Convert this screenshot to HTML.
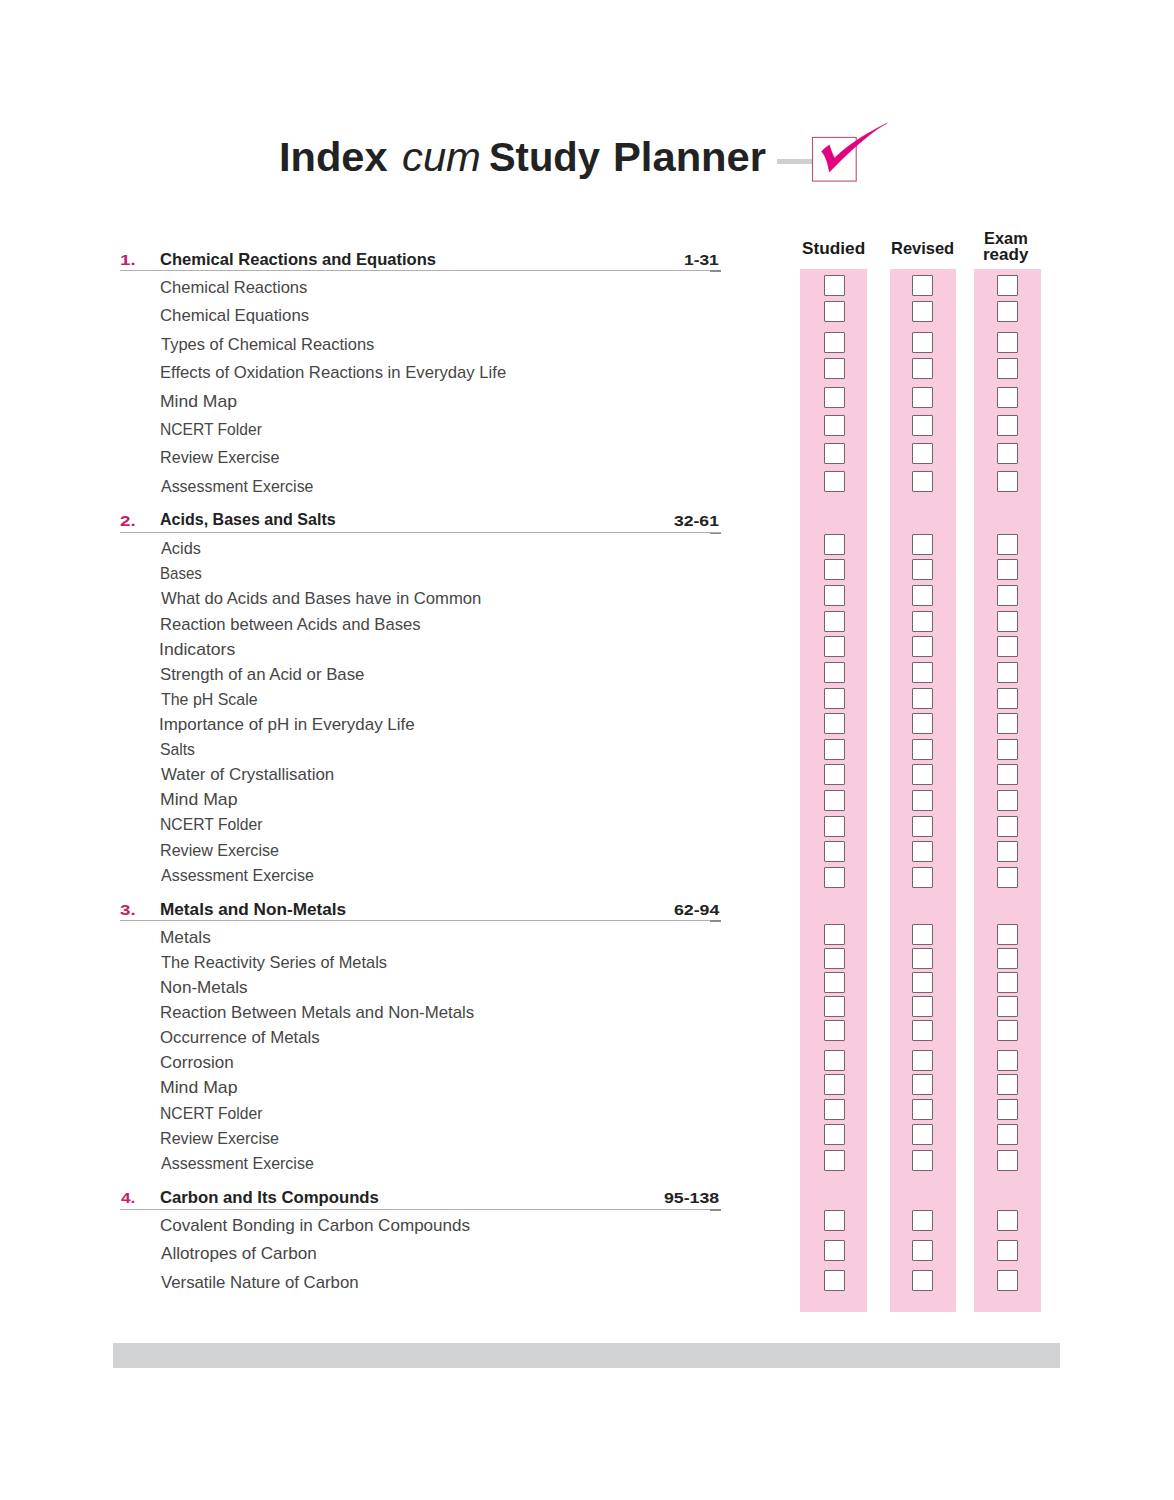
<!DOCTYPE html>
<html><head><meta charset="utf-8"><style>
html,body{margin:0;padding:0;background:#fff;}
body{width:1174px;height:1500px;position:relative;overflow:hidden;font-family:"Liberation Sans",sans-serif;}
div{position:absolute;white-space:nowrap;line-height:1;transform-origin:0 0;}
.sub{color:#464646;}
.head{color:#222;font-weight:bold;}
.num{color:#c4206c;font-weight:bold;}
.ul{left:120px;width:600.5px;height:1px;background:#b0b0b0;}
.ule{left:710px;width:10.5px;height:1.3px;background:#8a8a8a;}
.pink{background:#f8cbdf;}
.box{width:19px;height:19px;border:1px solid #75626b;background:#fff;border-radius:1px;}
.t{color:#222;}
.b{font-weight:bold;}
.i{font-style:italic;}
.colh{color:#1a1a1a;font-weight:bold;}
</style></head><body>
<div style="left:776.5px;top:158.7px;width:36px;height:5px;background:#cfcfcf"></div>
<svg style="position:absolute;left:805px;top:115px" width="90" height="70" viewBox="0 0 90 70">
<rect x="7.5" y="22.4" width="43.7" height="43.7" fill="none" stroke="#b5517f" stroke-width="1.1"/>
<path d="M16.5,36.4 C19,33.5 22,31.5 24.5,29.9 C25.5,34 27.5,39 29.5,42.9 C40,33 55,22 68,15.5 C74,12 79,9.5 82.4,8 C78,10.5 72,14 64,20.5 C50,31.5 38,43 24.4,57.1 C23,50 21.5,42 16.5,36.4 Z" fill="#e5007d" stroke="#c0006a" stroke-width="0.4"/>
</svg>
<div class="pink" style="left:800px;width:67px;top:269.3px;height:1043.1px"></div>
<div class="pink" style="left:889.5px;width:66.0px;top:269.3px;height:1043.1px"></div>
<div class="pink" style="left:974px;width:66.5px;top:269.3px;height:1043.1px"></div>
<div class="ul" style="top:269.7px"></div><div class="ule" style="top:270.4px"></div>
<div class="ul" style="top:531.8px"></div><div class="ule" style="top:532.5px"></div>
<div class="ul" style="top:919.7px"></div><div class="ule" style="top:920.4px"></div>
<div class="ul" style="top:1208.6px"></div><div class="ule" style="top:1209.3px"></div>
<div class="box" style="left:824px;top:275px"></div>
<div class="box" style="left:912px;top:275px"></div>
<div class="box" style="left:997px;top:275px"></div>
<div class="box" style="left:824px;top:301px"></div>
<div class="box" style="left:912px;top:301px"></div>
<div class="box" style="left:997px;top:301px"></div>
<div class="box" style="left:824px;top:332px"></div>
<div class="box" style="left:912px;top:332px"></div>
<div class="box" style="left:997px;top:332px"></div>
<div class="box" style="left:824px;top:358px"></div>
<div class="box" style="left:912px;top:358px"></div>
<div class="box" style="left:997px;top:358px"></div>
<div class="box" style="left:824px;top:387px"></div>
<div class="box" style="left:912px;top:387px"></div>
<div class="box" style="left:997px;top:387px"></div>
<div class="box" style="left:824px;top:415px"></div>
<div class="box" style="left:912px;top:415px"></div>
<div class="box" style="left:997px;top:415px"></div>
<div class="box" style="left:824px;top:443px"></div>
<div class="box" style="left:912px;top:443px"></div>
<div class="box" style="left:997px;top:443px"></div>
<div class="box" style="left:824px;top:471px"></div>
<div class="box" style="left:912px;top:471px"></div>
<div class="box" style="left:997px;top:471px"></div>
<div class="box" style="left:824px;top:534px"></div>
<div class="box" style="left:912px;top:534px"></div>
<div class="box" style="left:997px;top:534px"></div>
<div class="box" style="left:824px;top:559px"></div>
<div class="box" style="left:912px;top:559px"></div>
<div class="box" style="left:997px;top:559px"></div>
<div class="box" style="left:824px;top:585px"></div>
<div class="box" style="left:912px;top:585px"></div>
<div class="box" style="left:997px;top:585px"></div>
<div class="box" style="left:824px;top:611px"></div>
<div class="box" style="left:912px;top:611px"></div>
<div class="box" style="left:997px;top:611px"></div>
<div class="box" style="left:824px;top:636px"></div>
<div class="box" style="left:912px;top:636px"></div>
<div class="box" style="left:997px;top:636px"></div>
<div class="box" style="left:824px;top:662px"></div>
<div class="box" style="left:912px;top:662px"></div>
<div class="box" style="left:997px;top:662px"></div>
<div class="box" style="left:824px;top:688px"></div>
<div class="box" style="left:912px;top:688px"></div>
<div class="box" style="left:997px;top:688px"></div>
<div class="box" style="left:824px;top:713px"></div>
<div class="box" style="left:912px;top:713px"></div>
<div class="box" style="left:997px;top:713px"></div>
<div class="box" style="left:824px;top:739px"></div>
<div class="box" style="left:912px;top:739px"></div>
<div class="box" style="left:997px;top:739px"></div>
<div class="box" style="left:824px;top:764px"></div>
<div class="box" style="left:912px;top:764px"></div>
<div class="box" style="left:997px;top:764px"></div>
<div class="box" style="left:824px;top:790px"></div>
<div class="box" style="left:912px;top:790px"></div>
<div class="box" style="left:997px;top:790px"></div>
<div class="box" style="left:824px;top:816px"></div>
<div class="box" style="left:912px;top:816px"></div>
<div class="box" style="left:997px;top:816px"></div>
<div class="box" style="left:824px;top:841px"></div>
<div class="box" style="left:912px;top:841px"></div>
<div class="box" style="left:997px;top:841px"></div>
<div class="box" style="left:824px;top:867px"></div>
<div class="box" style="left:912px;top:867px"></div>
<div class="box" style="left:997px;top:867px"></div>
<div class="box" style="left:824px;top:924px"></div>
<div class="box" style="left:912px;top:924px"></div>
<div class="box" style="left:997px;top:924px"></div>
<div class="box" style="left:824px;top:948px"></div>
<div class="box" style="left:912px;top:948px"></div>
<div class="box" style="left:997px;top:948px"></div>
<div class="box" style="left:824px;top:972px"></div>
<div class="box" style="left:912px;top:972px"></div>
<div class="box" style="left:997px;top:972px"></div>
<div class="box" style="left:824px;top:996px"></div>
<div class="box" style="left:912px;top:996px"></div>
<div class="box" style="left:997px;top:996px"></div>
<div class="box" style="left:824px;top:1020px"></div>
<div class="box" style="left:912px;top:1020px"></div>
<div class="box" style="left:997px;top:1020px"></div>
<div class="box" style="left:824px;top:1050px"></div>
<div class="box" style="left:912px;top:1050px"></div>
<div class="box" style="left:997px;top:1050px"></div>
<div class="box" style="left:824px;top:1074px"></div>
<div class="box" style="left:912px;top:1074px"></div>
<div class="box" style="left:997px;top:1074px"></div>
<div class="box" style="left:824px;top:1099px"></div>
<div class="box" style="left:912px;top:1099px"></div>
<div class="box" style="left:997px;top:1099px"></div>
<div class="box" style="left:824px;top:1124px"></div>
<div class="box" style="left:912px;top:1124px"></div>
<div class="box" style="left:997px;top:1124px"></div>
<div class="box" style="left:824px;top:1150px"></div>
<div class="box" style="left:912px;top:1150px"></div>
<div class="box" style="left:997px;top:1150px"></div>
<div class="box" style="left:824px;top:1210px"></div>
<div class="box" style="left:912px;top:1210px"></div>
<div class="box" style="left:997px;top:1210px"></div>
<div class="box" style="left:824px;top:1240px"></div>
<div class="box" style="left:912px;top:1240px"></div>
<div class="box" style="left:997px;top:1240px"></div>
<div class="box" style="left:824px;top:1270px"></div>
<div class="box" style="left:912px;top:1270px"></div>
<div class="box" style="left:997px;top:1270px"></div>
<div class="t b" style="left:278.80px;top:137.39px;font-size:41px;transform:scaleX(1.0135)">Index</div><div class="t i" style="left:401.60px;top:137.39px;font-size:41px;transform:scaleX(1.0189)">cum</div><div class="t b" style="left:489.00px;top:137.39px;font-size:41px;transform:scaleX(0.9735)">Study</div><div class="t b" style="left:613.00px;top:137.39px;font-size:41px;transform:scaleX(1.0177)">Planner</div><div class="colh" style="left:802.00px;top:240.78px;font-size:16.8px;transform:scaleX(1.0267)">Studied</div><div class="colh" style="left:890.60px;top:239.80px;font-size:16.3px;transform:scaleX(1.0117)">Revised</div><div class="colh" style="left:984.20px;top:230.10px;font-size:16.3px;transform:scaleX(1.0072)">Exam</div><div class="colh" style="left:983.00px;top:246.10px;font-size:16.3px;transform:scaleX(1.0454)">ready</div><div class="num" style="left:120.40px;top:251.80px;font-size:15.0px;transform:scaleX(1.2510)">1.</div><div class="head" style="left:160.40px;top:250.70px;font-size:16.3px;transform:scaleX(1.0170)">Chemical Reactions and Equations</div><div class="head" style="left:684.00px;top:251.80px;font-size:15.0px;transform:scaleX(1.1587)">1-31</div><div class="sub" style="left:160.00px;top:280.05px;font-size:16.6px;transform:scaleX(0.9986)">Chemical Reactions</div><div class="sub" style="left:160.00px;top:308.42px;font-size:16.6px;transform:scaleX(1.0103)">Chemical Equations</div><div class="sub" style="left:161.00px;top:336.79px;font-size:16.6px;transform:scaleX(0.9925)">Types of Chemical Reactions</div><div class="sub" style="left:160.00px;top:365.16px;font-size:16.6px;transform:scaleX(1.0044)">Effects of Oxidation Reactions in Everyday Life</div><div class="sub" style="left:160.00px;top:393.53px;font-size:16.6px;transform:scaleX(1.0563)">Mind Map</div><div class="sub" style="left:160.00px;top:421.90px;font-size:16.6px;transform:scaleX(0.9411)">NCERT Folder</div><div class="sub" style="left:160.00px;top:450.27px;font-size:16.6px;transform:scaleX(0.9736)">Review Exercise</div><div class="sub" style="left:161.00px;top:478.64px;font-size:16.6px;transform:scaleX(0.9614)">Assessment Exercise</div><div class="num" style="left:120.40px;top:512.50px;font-size:15.0px;transform:scaleX(1.2510)">2.</div><div class="head" style="left:160.40px;top:511.40px;font-size:16.3px;transform:scaleX(0.9853)">Acids, Bases and Salts</div><div class="head" style="left:674.40px;top:512.50px;font-size:15.0px;transform:scaleX(1.1703)">32-61</div><div class="sub" style="left:161.00px;top:541.15px;font-size:16.6px;transform:scaleX(0.9825)">Acids</div><div class="sub" style="left:160.00px;top:566.27px;font-size:16.6px;transform:scaleX(0.9068)">Bases</div><div class="sub" style="left:161.00px;top:591.39px;font-size:16.6px;transform:scaleX(1.0038)">What do Acids and Bases have in Common</div><div class="sub" style="left:160.00px;top:616.51px;font-size:16.6px;transform:scaleX(1.0016)">Reaction between Acids and Bases</div><div class="sub" style="left:159.00px;top:641.63px;font-size:16.6px;transform:scaleX(1.0601)">Indicators</div><div class="sub" style="left:160.00px;top:666.75px;font-size:16.6px;transform:scaleX(1.0120)">Strength of an Acid or Base</div><div class="sub" style="left:161.00px;top:691.87px;font-size:16.6px;transform:scaleX(0.9610)">The pH Scale</div><div class="sub" style="left:159.00px;top:716.99px;font-size:16.6px;transform:scaleX(1.0231)">Importance of pH in Everyday Life</div><div class="sub" style="left:160.00px;top:742.11px;font-size:16.6px;transform:scaleX(0.9459)">Salts</div><div class="sub" style="left:161.00px;top:767.23px;font-size:16.6px;transform:scaleX(1.0189)">Water of Crystallisation</div><div class="sub" style="left:160.00px;top:792.35px;font-size:16.6px;transform:scaleX(1.0634)">Mind Map</div><div class="sub" style="left:160.00px;top:817.47px;font-size:16.6px;transform:scaleX(0.9467)">NCERT Folder</div><div class="sub" style="left:160.00px;top:842.59px;font-size:16.6px;transform:scaleX(0.9703)">Review Exercise</div><div class="sub" style="left:161.00px;top:867.71px;font-size:16.6px;transform:scaleX(0.9633)">Assessment Exercise</div><div class="num" style="left:120.40px;top:901.70px;font-size:15.0px;transform:scaleX(1.2510)">3.</div><div class="head" style="left:160.40px;top:900.60px;font-size:16.3px;transform:scaleX(1.0549)">Metals and Non-Metals</div><div class="head" style="left:673.60px;top:901.70px;font-size:15.0px;transform:scaleX(1.1811)">62-94</div><div class="sub" style="left:160.00px;top:929.75px;font-size:16.6px;transform:scaleX(1.0384)">Metals</div><div class="sub" style="left:161.00px;top:954.86px;font-size:16.6px;transform:scaleX(0.9882)">The Reactivity Series of Metals</div><div class="sub" style="left:160.00px;top:979.97px;font-size:16.6px;transform:scaleX(1.0314)">Non-Metals</div><div class="sub" style="left:160.00px;top:1005.08px;font-size:16.6px;transform:scaleX(1.0140)">Reaction Between Metals and Non-Metals</div><div class="sub" style="left:160.00px;top:1030.19px;font-size:16.6px;transform:scaleX(1.0122)">Occurrence of Metals</div><div class="sub" style="left:160.00px;top:1055.30px;font-size:16.6px;transform:scaleX(1.0243)">Corrosion</div><div class="sub" style="left:160.00px;top:1080.41px;font-size:16.6px;transform:scaleX(1.0634)">Mind Map</div><div class="sub" style="left:160.00px;top:1105.52px;font-size:16.6px;transform:scaleX(0.9467)">NCERT Folder</div><div class="sub" style="left:160.00px;top:1130.63px;font-size:16.6px;transform:scaleX(0.9703)">Review Exercise</div><div class="sub" style="left:161.00px;top:1155.74px;font-size:16.6px;transform:scaleX(0.9633)">Assessment Exercise</div><div class="num" style="left:121.40px;top:1189.90px;font-size:15.0px;transform:scaleX(1.1467)">4.</div><div class="head" style="left:160.40px;top:1188.80px;font-size:16.3px;transform:scaleX(1.0250)">Carbon and Its Compounds</div><div class="head" style="left:664.40px;top:1189.90px;font-size:15.0px;transform:scaleX(1.1801)">95-138</div><div class="sub" style="left:160.00px;top:1217.95px;font-size:16.6px;transform:scaleX(1.0280)">Covalent Bonding in Carbon Compounds</div><div class="sub" style="left:161.00px;top:1246.35px;font-size:16.6px;transform:scaleX(1.0293)">Allotropes of Carbon</div><div class="sub" style="left:161.00px;top:1274.75px;font-size:16.6px;transform:scaleX(1.0103)">Versatile Nature of Carbon</div>
<div style="left:113.4px;top:1342.5px;width:946.3px;height:25.2px;background:#d1d2d4"></div>
</body></html>
